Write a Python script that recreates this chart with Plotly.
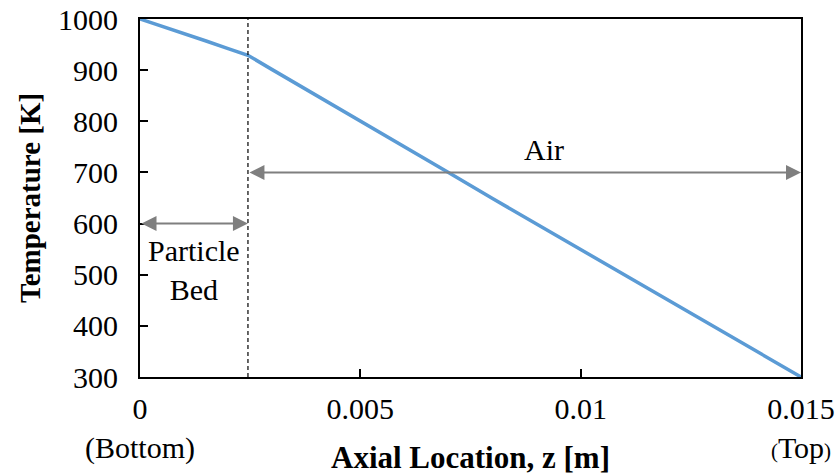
import plotly.graph_objects as go

# Axial temperature profile through the particle bed and the air column
z_m = [0.0, 0.0005, 0.001, 0.0015, 0.002, 0.00245, 0.003, 0.004, 0.005,
       0.006, 0.007, 0.008, 0.009, 0.010, 0.011, 0.012, 0.013, 0.014, 0.015]
temp_k = [1000, 986, 971, 957, 942, 929, 901, 851, 800,
          750, 700, 649, 599, 549, 499, 449, 399, 350, 300]

bed_top = 0.00245         # interface between particle bed and air
z_end = 0.015
x_ticks = [0, 0.005, 0.01, 0.015]
x_tick_text = ["0<br>(Bottom)", "0.005", "0.01",
               "0.015<br><span style='font-size:21px'>(</span>Top<span style='font-size:21px'>)</span>"]
y_ticks = [300, 400, 500, 600, 700, 800, 900, 1000]

FONT = "Liberation Serif, Times New Roman, serif"
GREY = "#7f7f7f"
TXT = dict(family=FONT, size=30, color="black")

fig = go.Figure()
fig.add_trace(go.Scatter(x=z_m, y=temp_k, mode="lines",
                         line=dict(color="#5B9BD5", width=3.5), showlegend=False))

# dashed marker of the bed / air interface
fig.add_shape(type="line", x0=bed_top, x1=bed_top, y0=300, y1=1000,
              xref="x", yref="y", line=dict(color="black", width=1.2, dash="4px,3px"))

# double-headed span arrows
def span_arrow(x0, x1, y):
    fig.add_annotation(x=x1, y=y, ax=x0, ay=y, xref="x", yref="y", axref="x", ayref="y",
                       text="", showarrow=True, arrowhead=2, startarrowhead=2,
                       arrowside="end+start", arrowsize=1.5, startarrowsize=1.5,
                       arrowwidth=2, arrowcolor=GREY)

span_arrow(0, bed_top, 600)
span_arrow(bed_top, z_end, 700)

fig.add_annotation(x=0.00916, y=744, text="Air", showarrow=False, font=TXT)
fig.add_annotation(x=bed_top / 2, y=510, text="Particle<br>Bed", showarrow=False, font=TXT)

# axis titles placed as annotations in paper space
fig.add_annotation(x=0.5, y=0, xref="paper", yref="paper", yanchor="middle",
                   yshift=-80, text="<b>Axial Location, z [m]</b>", showarrow=False,
                   font=dict(family=FONT, size=31, color="black"))
fig.add_annotation(x=0, y=0.5, xref="paper", yref="paper", xanchor="center",
                   xshift=-110, textangle=-90, text="<b>Temperature [K]</b>",
                   showarrow=False, font=dict(family=FONT, size=29, color="black"))

fig.update_xaxes(range=[0, z_end], tickvals=x_ticks, ticktext=x_tick_text,
                 ticks="inside", ticklen=8, tickcolor="black", tickwidth=1.5,
                 ticklabelstandoff=4,
                 showline=True, linecolor="black", linewidth=2, mirror=True,
                 showgrid=False, zeroline=False, tickfont=TXT)
fig.update_yaxes(range=[300, 1000], tickvals=y_ticks,
                 ticks="inside", ticklen=8, tickcolor="black", tickwidth=1.5,
                 ticklabelstandoff=14,
                 showline=True, linecolor="black", linewidth=2, mirror=True,
                 showgrid=False, zeroline=False, tickfont=TXT)

fig.update_layout(width=839, height=476, plot_bgcolor="white", paper_bgcolor="white",
                  margin=dict(l=140, r=38, t=19, b=99, autoexpand=False))

fig.write_html("out.html")
